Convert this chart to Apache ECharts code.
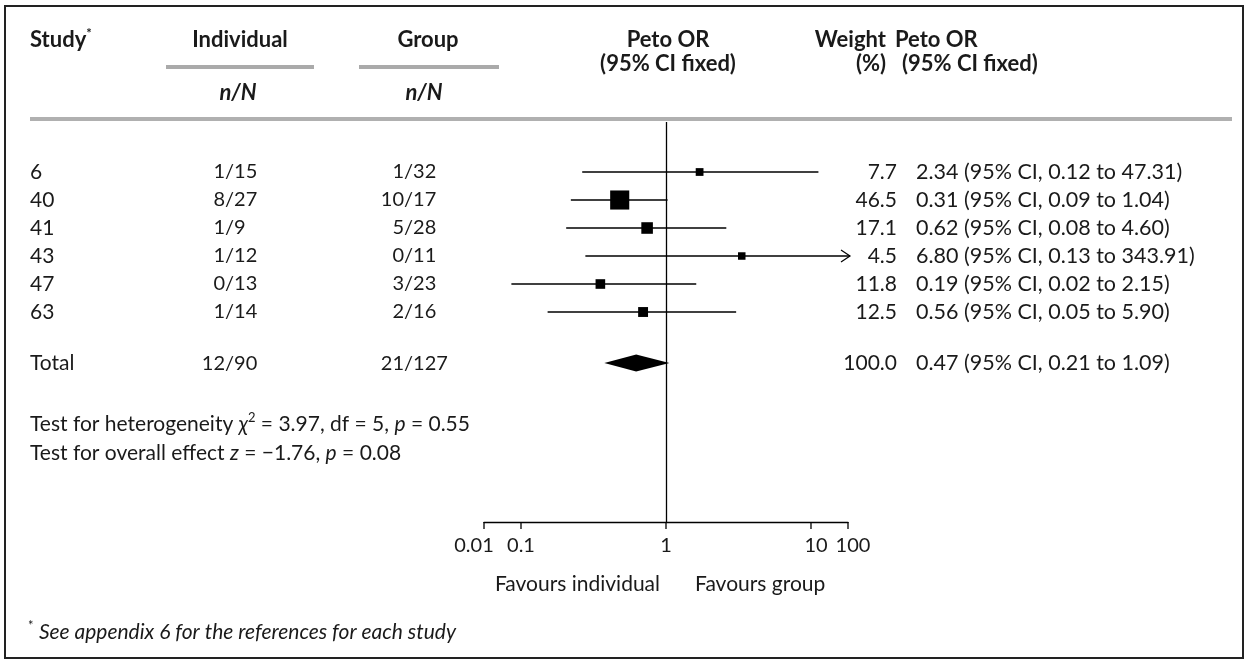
<!DOCTYPE html>
<html><head><meta charset="utf-8">
<script src="https://cdn.jsdelivr.net/npm/echarts@6/dist/echarts.min.js"></script>
<style>html,body{margin:0;padding:0;background:#fff}#c{width:1248px;height:664px}</style>
</head><body><div id="c"></div>
<script>
// ---------- data ----------
const studies = ['6', '40', '41', '43', '47', '63'];
const individualNN = ['1/15', '8/27', '1/9', '1/12', '0/13', '1/14'];
const groupNN = ['1/32', '10/17', '5/28', '0/11', '3/23', '2/16'];
const orEst = [2.34, 0.31, 0.62, 6.80, 0.19, 0.56];
const orLow = [0.12, 0.09, 0.08, 0.13, 0.02, 0.05];
const orHigh = [47.31, 1.04, 4.60, 343.91, 2.15, 5.90];
const weights = [7.7, 46.5, 17.1, 4.5, 11.8, 12.5];
const totalName = 'Total';
const totalIndividual = '12/90';
const totalGroup = '21/127';
const totalEst = 0.47, totalLow = 0.21, totalHigh = 1.09, totalWeight = 100.0;
const tickLabels = ['0.01', '0.1', '1', '10', '100'];
// where the reference draws each tick along the log axis (OR units)
const tickDrawnAt = [0.01, 0.0255, 1, 39.2, 100];
const heterogeneity = { chi2: '3.97', df: '5', p: '0.55' };
const overall = { z: '\u22121.76', p: '0.08' };

// ---------- layout ----------
const FONT = 'Lato';
const FS = 21;
const HFS = 22;
const CI_FS = 21.5;
const TXT = '#1a1a1a';
const GRID_TOP = 122, AXIS_Y = 522, ROW_H = 28;
const AX_MIN = 0.01, AX_MAX = 100;
const studySlot = i => i + 1.786;
const TOTAL_SLOT = 8.61;
const Y_MAX = (AXIS_Y - GRID_TOP) / ROW_H;
const COL = { study: 30, indSlash: 225, grpSlash: 404, weightRight: 897, ciLeft: 916 };
const TICK_LABEL_SHIFT = [-10, 0, 0, 5, 5];

const fmtCI = (e, l, h) => `${e.toFixed(2)} (95% CI, ${l.toFixed(2)} to ${h.toFixed(2)})`;

function txt(t, x, y, align, extra) {
  return Object.assign({ type: 'text', x: x, y: y, style: Object.assign({
    text: t, fill: TXT, fontSize: FS, fontFamily: FONT,
    align: align, textAlign: align, verticalAlign: 'middle', textVerticalAlign: 'middle'
  }, extra || {}) });
}
function slashText(s, xSlash, y) {
  const k = s.indexOf('/');
  return [txt(s.slice(0, k), xSlash, y, 'right', { fontSize: 20 }), txt(s.slice(k), xSlash, y, 'left', { fontSize: 20 })];
}

function renderForest(params, api) {
  const i = api.value(2);
  const slot = api.value(1);
  const y = api.coord([1, slot])[1];
  const hiClamped = Math.min(orHigh[i], AX_MAX);
  const xe = api.coord([orEst[i], slot])[0];
  const xl = api.coord([orLow[i], slot])[0];
  const xh = api.coord([hiClamped, slot])[0];
  const over = orHigh[i] > AX_MAX;
  const children = [{ type: 'line', shape: { x1: xl, y1: y, x2: xh + (over ? 2 : 0), y2: y },
    style: { stroke: '#000', lineWidth: 1.3 } }];
  if (over) {
    children.push({ type: 'polyline', shape: { points: [[xh - 7, y - 6], [xh + 2, y], [xh - 7, y + 6]] },
      style: { stroke: '#000', fill: null, lineWidth: 1.2 } });
  }
  const sz = Math.max(7.5, 2.8 * Math.sqrt(weights[i]));
  children.push({ type: 'rect', shape: { x: xe - sz / 2, y: y - sz / 2, width: sz, height: sz }, style: { fill: '#000' } });
  return { type: 'group', children: children };
}

function renderDiamond(params, api) {
  const slot = api.value(1);
  const y = api.coord([1, slot])[1];
  const xe = api.coord([totalEst, slot])[0];
  const xl = api.coord([totalLow, slot])[0];
  const xh = api.coord([totalHigh, slot])[0];
  return { type: 'polygon', shape: { points: [[xl, y], [xe, y - 8.5], [xh, y], [xe, y + 8.5]] }, style: { fill: '#000' } };
}

function renderRowText(params, api) {
  const r = api.value(2);
  const slot = api.value(1);
  const y = api.coord([1, slot])[1];
  const isTotal = r === studies.length;
  const name = isTotal ? totalName : studies[r];
  const ind = isTotal ? totalIndividual : individualNN[r];
  const grp = isTotal ? totalGroup : groupNN[r];
  const w = isTotal ? totalWeight : weights[r];
  const ci = isTotal ? fmtCI(totalEst, totalLow, totalHigh) : fmtCI(orEst[r], orLow[r], orHigh[r]);
  const children = [txt(name, COL.study, y, 'left')]
    .concat(slashText(ind, COL.indSlash, y))
    .concat(slashText(grp, COL.grpSlash, y))
    .concat([txt(w.toFixed(1), COL.weightRight, y, 'right'), txt(ci, COL.ciLeft, y, 'left', { fontSize: CI_FS })]);
  return { type: 'group', children: children };
}

function renderTicks(params, api) {
  const i = api.value(2);
  const x = api.coord([api.value(0), 1])[0];
  const yb = params.coordSys.y + params.coordSys.height;
  return { type: 'group', children: [
    { type: 'line', shape: { x1: x, y1: yb, x2: x, y2: yb + 7 }, style: { stroke: '#000', lineWidth: 1.3 } },
    txt(tickLabels[i], x + TICK_LABEL_SHIFT[i], yb + 24, 'center', { fontSize: 20 })
  ] };
}

const rowTextData = studies.map((s, i) => [1, studySlot(i), i]).concat([[1, TOTAL_SLOT, studies.length]]);

const chart = echarts.init(document.getElementById('c'));
chart.setOption({
  animation: false,
  backgroundColor: '#fff',
  grid: { left: 484, right: 1248 - 848, top: GRID_TOP, bottom: 664 - AXIS_Y },
  xAxis: { type: 'log', logBase: 10, min: AX_MIN, max: AX_MAX, position: 'bottom',
    axisLine: { show: true, onZero: false, lineStyle: { color: '#000', width: 1.3 } },
    axisTick: { show: false }, axisLabel: { show: false }, splitLine: { show: false } },
  yAxis: { type: 'value', inverse: true, min: 0, max: Y_MAX, show: false },
  series: [
    { type: 'custom', name: 'rows', clip: false, silent: true, encode: { x: 0, y: 1 },
      data: studies.map((s, i) => [orEst[i], studySlot(i), i]), renderItem: renderForest,
      markLine: { silent: true, symbol: 'none', label: { show: false },
        lineStyle: { color: '#000', width: 1.3, type: 'solid' }, data: [{ xAxis: 1 }] } },
    { type: 'custom', name: 'total', clip: false, silent: true, encode: { x: 0, y: 1 },
      data: [[totalEst, TOTAL_SLOT, 0]], renderItem: renderDiamond },
    { type: 'custom', name: 'text', clip: false, silent: true, encode: { x: 0, y: 1 },
      data: rowTextData, renderItem: renderRowText },
    { type: 'custom', name: 'ticks', clip: false, silent: true, encode: { x: 0, y: 1 },
      data: tickDrawnAt.map((v, i) => [v, Y_MAX, i]), renderItem: renderTicks }
  ],
  graphic: [
    { type: 'rect', shape: { x: 5, y: 6, width: 1238, height: 652 }, style: { fill: null, stroke: '#222', lineWidth: 2 } },
    { type: 'text', x: 30, y: 40, style: { text: '{b|Study}{s|*}', fill: TXT, fontFamily: FONT, verticalAlign: 'middle', textVerticalAlign: 'middle',
      rich: { b: { fontWeight: 'bold', fontSize: HFS, fontFamily: FONT, lineHeight: 26 }, s: { fontSize: 13, fontFamily: FONT, fontWeight: 'bold', verticalAlign: 'top', lineHeight: 12 } } } },
    txt('Individual', 240, 40, 'center', { fontWeight: 'bold', fontSize: HFS }),
    txt('Group', 428, 40, 'center', { fontWeight: 'bold', fontSize: HFS }),
    txt('Peto OR', 668, 40, 'center', { fontWeight: 'bold', fontSize: HFS }),
    txt('(95% CI fixed)', 668, 64, 'center', { fontWeight: 'bold', fontSize: HFS }),
    txt('Weight', 886, 40, 'right', { fontWeight: 'bold', fontSize: HFS }),
    txt('(%)', 886, 64, 'right', { fontWeight: 'bold', fontSize: HFS }),
    txt('Peto OR', 895, 40, 'left', { fontWeight: 'bold', fontSize: HFS }),
    txt('(95% CI fixed)', 902, 64, 'left', { fontWeight: 'bold', fontSize: HFS }),
    { type: 'line', shape: { x1: 166, y1: 67, x2: 314, y2: 67 }, style: { stroke: '#aaaaaa', lineWidth: 4 } },
    { type: 'line', shape: { x1: 359, y1: 67, x2: 499, y2: 67 }, style: { stroke: '#aaaaaa', lineWidth: 4 } },
    txt('n/N', 238, 93, 'center', { fontWeight: 'bold', fontStyle: 'italic', fontSize: HFS }),
    txt('n/N', 424, 93, 'center', { fontWeight: 'bold', fontStyle: 'italic', fontSize: HFS }),
    { type: 'line', shape: { x1: 30, y1: 119, x2: 1232, y2: 119 }, style: { stroke: '#b0b0b0', lineWidth: 4 } },
    { type: 'text', x: 30, y: 424, style: {
      text: 'Test for heterogeneity {i|\u03c7}{s|2} = ' + heterogeneity.chi2 + ', df = ' + heterogeneity.df + ', {i|p} = ' + heterogeneity.p,
      fill: TXT, fontSize: FS, fontFamily: FONT, verticalAlign: 'middle', textVerticalAlign: 'middle',
      rich: { i: { fontStyle: 'italic', fontSize: FS, fontFamily: FONT, lineHeight: 26 }, s: { fontSize: 13, fontFamily: FONT, verticalAlign: 'top', lineHeight: 12 } } } },
    { type: 'text', x: 30, y: 453, style: {
      text: 'Test for overall effect {i|z} = ' + overall.z + ', {i|p} = ' + overall.p,
      fill: TXT, fontSize: FS, fontFamily: FONT, verticalAlign: 'middle', textVerticalAlign: 'middle',
      rich: { i: { fontStyle: 'italic', fontSize: FS, fontFamily: FONT, lineHeight: 26 } } } },
    txt('Favours individual', 660, 584, 'right'),
    txt('Favours group', 695, 584, 'left'),
    { type: 'text', x: 28, y: 632, style: {
      text: '{s|*} {i|See appendix 6 for the references for each study}',
      fill: TXT, fontSize: FS, fontFamily: FONT, verticalAlign: 'middle', textVerticalAlign: 'middle',
      rich: { i: { fontStyle: 'italic', fontSize: FS, fontFamily: FONT, lineHeight: 26 }, s: { fontSize: 13, fontFamily: FONT, verticalAlign: 'top', lineHeight: 12 } } } }
  ]
});
</script></body></html>
